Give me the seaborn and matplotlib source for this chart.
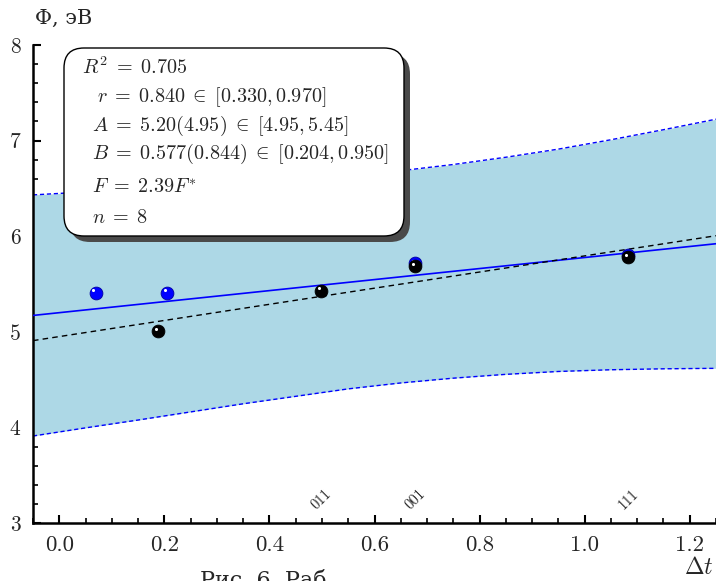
import numpy as np
import matplotlib
matplotlib.use("Agg")
import matplotlib.pyplot as plt
import seaborn as sns
from matplotlib.patches import FancyBboxPatch
from matplotlib.ticker import MultipleLocator, FormatStrFormatter
from matplotlib.transforms import ScaledTranslation

# measured work function vs. strain parameter
dt_blue = [0.069, 0.206, 0.678, 1.083]
phi_blue = [5.41, 5.41, 5.72, 5.80]
dt_black = [0.188, 0.498, 0.678, 1.083]
phi_black = [5.01, 5.43, 5.69, 5.78]

# crystal faces marked along the axis
face_labels = ["011", "001", "111"]
face_dt = [0.498, 0.678, 1.083]

# regression lines: solid (A, B) and dashed (A*, B*)
A_fit, B_fit = 5.20, 0.577
A_alt, B_alt = 4.95, 0.844

# prediction band edges
band_dt = [-0.05, 0.05, 0.15, 0.25, 0.35, 0.45, 0.55, 0.65, 0.75, 0.85, 0.95, 1.05, 1.15, 1.25]
band_lo = [3.910, 3.995, 4.077, 4.162, 4.247, 4.325, 4.403, 4.465, 4.515, 4.555, 4.585, 4.603, 4.613, 4.618]
band_hi = [6.432, 6.463, 6.496, 6.527, 6.557, 6.594, 6.632, 6.685, 6.750, 6.826, 6.911, 7.009, 7.114, 7.224]

stats_lines = [
    r"$R^2 \;=\; 0.705$",
    r"$r \;=\; 0.840 \;\in\; [0.330, 0.970]$",
    r"$A \;=\; 5.20(4.95) \;\in\; [4.95, 5.45]$",
    r"$B \;=\; 0.577(0.844) \;\in\; [0.204, 0.950]$",
    r"$F \;=\; 2.39F^{*}$",
    r"$n \;=\; 8$",
]

sns.set_theme(style="ticks")
plt.rcParams.update({
    "font.family": ["cmr10", "DejaVu Serif"],
    "mathtext.fontset": "cm",
    "axes.formatter.use_mathtext": True,
    "axes.unicode_minus": False,
})

W, H = 716, 581
fig = plt.figure(figsize=(W / 100, H / 100), dpi=100)
ax = fig.add_axes([33 / W, 58 / H, 683 / W, 478 / H])

# band
ax.fill_between(band_dt, band_lo, band_hi, color="#add8e6", lw=0, zorder=1)
sns.lineplot(x=band_dt, y=band_lo, color="blue", lw=1.0, linestyle=(0, (3, 2)), ax=ax, zorder=2)
sns.lineplot(x=band_dt, y=band_hi, color="blue", lw=1.0, linestyle=(0, (3, 2)), ax=ax, zorder=2)

# fit lines
ax.axline((0, A_fit), slope=B_fit, color="blue", lw=1.2, zorder=3)
ax.axline((0, A_alt), slope=B_alt, color="black", lw=1.0, linestyle=(0, (4, 3)), zorder=3)

# points with a small specular highlight
hl = ax.transData + ScaledTranslation(-1.6 / 72, 1.6 / 72, fig.dpi_scale_trans)
sns.scatterplot(x=dt_blue, y=phi_blue, color="#0000ff", s=85, edgecolor="#0000a0",
                linewidth=0.6, ax=ax, zorder=4)
ax.scatter(dt_blue, phi_blue, s=5, color="white", transform=hl, zorder=5, linewidths=0)
sns.scatterplot(x=dt_black, y=phi_black, color="black", s=85, edgecolor="black",
                linewidth=0.6, ax=ax, zorder=6)
ax.scatter(dt_black, phi_black, s=5, color="white", transform=hl, zorder=7, linewidths=0)

for lab, x in zip(face_labels, face_dt):
    ax.text(x, 3.25, lab, rotation=45, ha="center", va="center", fontsize=10.5, zorder=5)

ax.set_xlim(-0.05, 1.25)
ax.set_ylim(3, 8)
ax.set_xticks(np.arange(0, 1.21, 0.2))
ax.set_yticks(range(3, 9))
ax.xaxis.set_minor_locator(MultipleLocator(0.05))
ax.yaxis.set_minor_locator(MultipleLocator(0.2))
ax.xaxis.set_major_formatter(FormatStrFormatter("%.1f"))
ax.yaxis.set_major_formatter(FormatStrFormatter("%d"))
ax.tick_params(which="major", direction="in", length=6, width=1.5, color="black", pad=9)
ax.tick_params(which="minor", direction="in", length=3.5, width=1.2, color="black")
ax.tick_params(axis="x", labelsize=16.5)
ax.tick_params(axis="y", labelsize=15.5)
for s in ("top", "right"):
    ax.spines[s].set_visible(False)
for s in ("left", "bottom"):
    ax.spines[s].set_linewidth(1.8)
    ax.spines[s].set_color("black")
ax.set_xlabel("")
ax.set_ylabel("")
ax.set_facecolor("white")

fig.text(35 / W, 1 - 18 / H, "Φ, эВ", ha="left", va="center", fontsize=15,
         family=["DejaVu Serif"])
fig.text(714 / W, 1 - 568 / H, r"$\Delta t$", ha="right", va="center", fontsize=17)
fig.text(200 / W, 1 - 570 / H, "Рис. 6. Раб", ha="left", va="top", fontsize=16,
         family=["DejaVu Serif"])

# statistics box with drop shadow (coordinates in inches)
inch = fig.dpi_scale_trans
bx, by, bw, bh = 0.64, (H - 236) / 100, 3.40, 1.88
shadow = FancyBboxPatch((bx + 0.06, by - 0.06), bw, bh, boxstyle="round,pad=0,rounding_size=0.2",
                        transform=inch, facecolor="#4a4a4a", edgecolor="none", zorder=10)
box = FancyBboxPatch((bx, by), bw, bh, boxstyle="round,pad=0,rounding_size=0.2",
                     transform=inch, facecolor="white", edgecolor="black", lw=1.0, zorder=11)
fig.patches.extend([shadow, box])
baselines = [74, 102, 131, 159, 193, 223]
xs = [82, 97, 92, 92, 92, 92]
for txt, yb, xx in zip(stats_lines, baselines, xs):
    fig.text(xx / W, 1 - yb / H, txt, ha="left", va="baseline", fontsize=14.5, zorder=12)

fig.savefig("out.png", dpi=100)
